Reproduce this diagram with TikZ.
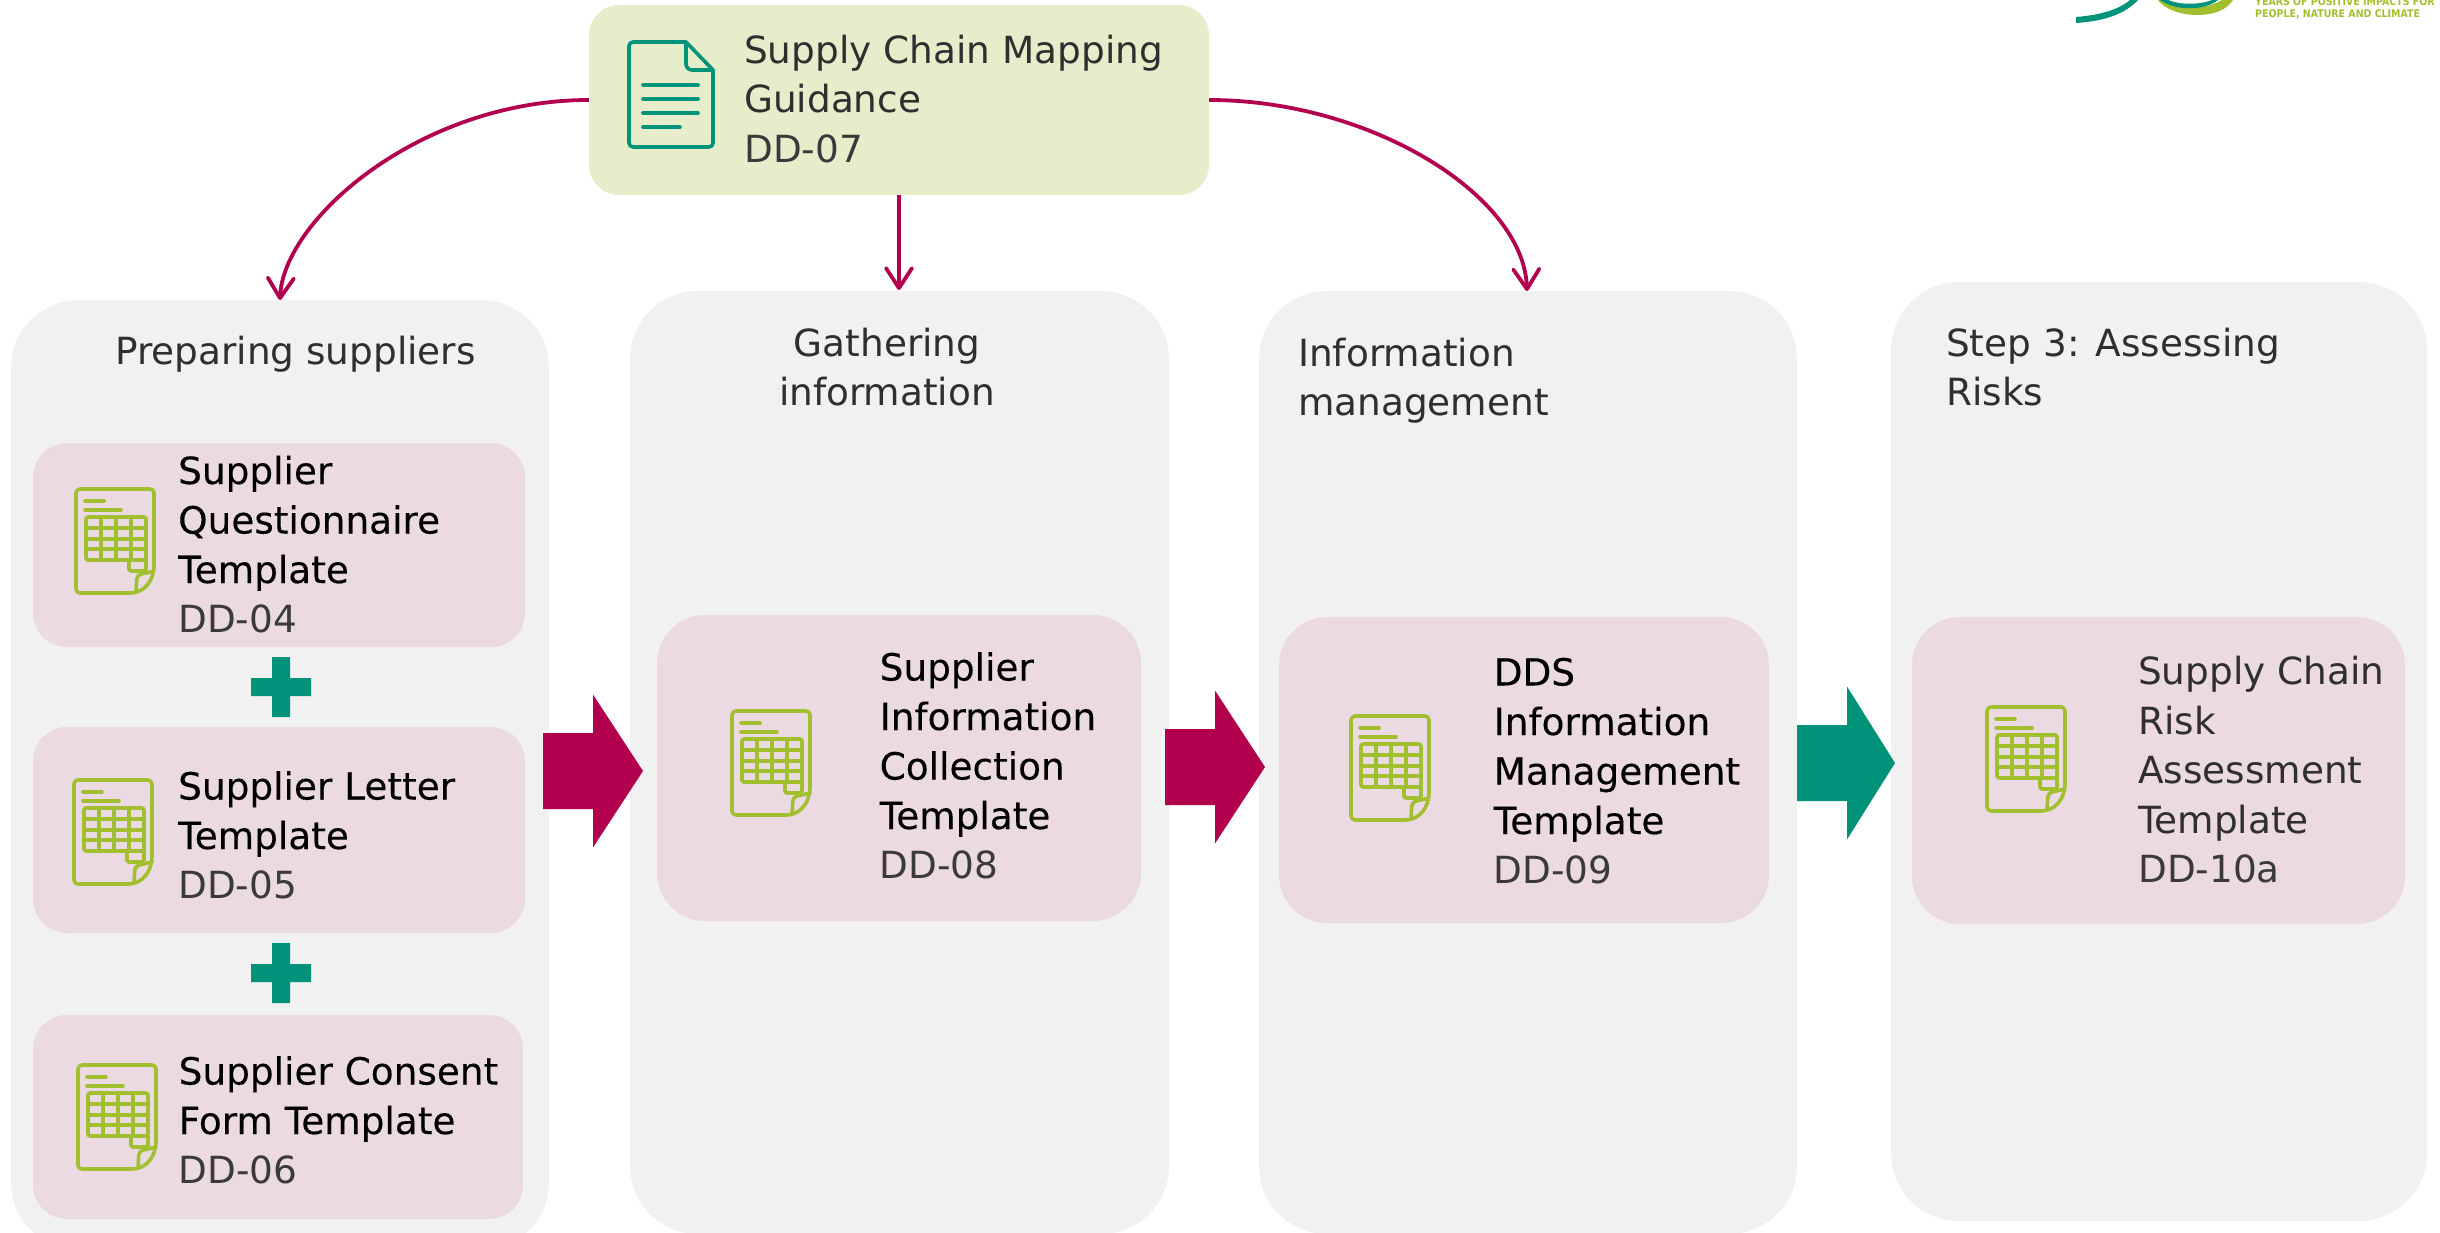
\documentclass[tikz,border=0pt]{standalone}
\usepackage{fontspec}
\setmainfont{DejaVu Sans}
\newfontfamily\logofont{DejaVu Sans Condensed}
\newfontfamily\heavy[FakeBold=0.25]{DejaVu Sans}
\usetikzlibrary{arrows.meta}
\definecolor{panelc}{HTML}{F1F1F1}
\definecolor{pinkc}{HTML}{ECDAE2}
\definecolor{topc}{HTML}{E6EDCB}
\definecolor{magc}{HTML}{B2004F}
\definecolor{tealc}{HTML}{00937A}
\definecolor{greenc}{HTML}{A1BF2F}
\definecolor{darkc}{HTML}{2F2F2F}
\definecolor{codec}{HTML}{3A3A3A}
\tikzset{
 x=1pt,y=-1pt,
 panelbox/.style={fill=panelc,rounded corners=68pt,inner sep=0,draw=none},
 pinkbox/.style={fill=pinkc,rounded corners=34pt,inner sep=0,draw=none},
 bigpink/.style={fill=pinkc,rounded corners=48pt,inner sep=0,draw=none},
 topbox/.style={fill=topc,rounded corners=30pt,inner sep=0,draw=none},
 label/.style={anchor=base west,inner sep=0,font=\fontsize{37.4}{49.5}\selectfont},
 flow/.style={draw=magc,line width=3.8pt,-{Straight Barb[length=20pt,width=26pt,line width=3.8pt,round]}},
 iconline/.style={greenc,line width=3.6pt,line cap=round,line join=round},
 docline/.style={tealc,line width=3.6pt,line cap=round,line join=round},
}
\newcommand{\boxat}[6]{% style,name,x1,y1,x2,y2
 \pgfmathsetmacro{\bw}{#5-#3}\pgfmathsetmacro{\bh}{#6-#4}
 \pgfmathsetmacro{\bx}{(#3+#5)/2}\pgfmathsetmacro{\by}{(#4+#6)/2}
 \node[#1,minimum width=\bw pt,minimum height=\bh pt,rectangle] (#2) at (\bx,\by) {};}
\newcommand{\lines}[5]{% name,x,y,text colour,lines
 \node[label,text=#4] (#1) at (#2,#3) {\begin{tabular}[t]{@{}l@{}}#5\end{tabular}};}
\newcommand{\code}[1]{\normalfont\textcolor{codec}{#1}}
\newcommand{\hv}[1]{{\heavy #1}}
\newcommand{\sheet}[2]{%
 \begin{scope}[shift={(#1,#2)},iconline]
  \draw[rounded corners=4pt] (54,104) -- (0,104) -- (0,0) -- (78,0) -- (78,76);
  \draw (78,76) .. controls (78,92) and (68,104) .. (54,104);
  \draw[rounded corners=4pt] (60,103) -- (61,86) -- (78,82);
  \draw (9,12) -- (28,12);
  \draw (9,21) -- (45,21);
  \draw[rounded corners=2pt] (10,28) rectangle (70,71);
  \draw[rounded corners=2pt] (53,71) -- (53,82) -- (70,82) -- (70,71);
  \draw[line width=3.2pt,line cap=butt] (25,28) -- (25,71) (40,28) -- (40,71) (55,28) -- (55,71);
  \draw[line width=3.2pt,line cap=butt] (10,39) -- (70,39) (10,50) -- (70,50) (10,60) -- (70,60);
 \end{scope}}
\newcommand{\plusat}[2]{%
 \fill[tealc] (#1-9,#2-30) -- (#1+9,#2-30) -- (#1+9,#2-9) -- (#1+30,#2-9) -- (#1+30,#2+9) -- (#1+9,#2+9) -- (#1+9,#2+30) -- (#1-9,#2+30) -- (#1-9,#2+9) -- (#1-30,#2+9) -- (#1-30,#2-9) -- (#1-9,#2-9) -- cycle;}
\newcommand{\blockarrow}[5]{% colour, x1, xneck, xtip, ycentre
 \fill[#1] (#2,#5-38) -- (#3,#5-38) -- (#3,#5-76.5) -- (#4,#5) -- (#3,#5+76.5) -- (#3,#5+38) -- (#2,#5+38) -- cycle;}
\begin{document}
\begin{tikzpicture}
\useasboundingbox (0,0) rectangle (2440,1232);
\clip (0,0) rectangle (2440,1232);
% panels
\boxat{panelbox}{p1}{11}{300}{549}{1250}
\boxat{panelbox}{p2}{630}{291}{1169}{1234}
\boxat{panelbox}{p3}{1259}{291}{1797}{1234}
\boxat{panelbox}{p4}{1891}{282}{2427}{1221}
% top box
\boxat{topbox}{top}{589}{5}{1209}{195}
\begin{scope}[shift={(629,42)},docline]
 \draw[rounded corners=4pt] (57,0) -- (0,0) -- (0,105) -- (84,105) -- (84,28);
 \draw (57,0) -- (84,28);
 \draw[rounded corners=6pt] (57,0) -- (57,28) -- (84,28);
 \draw (14,43) -- (69,43) (14,57) -- (69,57) (14,71) -- (69,71) (14,85) -- (51,85);
\end{scope}
\lines{toptxt}{744}{63}{darkc}{Supply Chain Mapping\\Guidance\\\code{DD-07}}
% titles
\lines{t1}{115}{364}{darkc}{Preparing suppliers}
\node[label,text=darkc,anchor=base] (t2) at (887,356) {\begin{tabular}[t]{@{}c@{}}Gathering\\information\end{tabular}};
\lines{t3}{1298}{366}{darkc}{Information\\management}
\lines{t4}{1946}{356}{darkc}{Step 3: Assessing\\Risks}
% left column
\boxat{pinkbox}{b1}{33}{443}{525}{647}
\sheet{76}{489}
\lines{b1t}{178}{484}{black}{\hv{Supplier}\\\hv{Questionnaire}\\\hv{Template}\\\code{DD-04}}
\plusat{281}{687}
\boxat{pinkbox}{b2}{33}{727}{525}{933}
\sheet{74}{780}
\lines{b2t}{178}{799.5}{black}{\hv{Supplier Letter}\\\hv{Template}\\\code{DD-05}}
\plusat{281}{973}
\boxat{pinkbox}{b3}{33}{1015}{523}{1219}
\sheet{78}{1065}
\lines{b3t}{178.5}{1084.5}{black}{\hv{Supplier Consent}\\\hv{Form Template}\\\code{DD-06}}
% other columns
\boxat{bigpink}{b4}{657}{615}{1141}{921}
\sheet{732}{711}
\lines{b4t}{879.5}{680.5}{black}{\hv{Supplier}\\\hv{Information}\\\hv{Collection}\\\hv{Template}\\\code{DD-08}}
\boxat{bigpink}{b5}{1279}{617}{1769}{923}
\sheet{1351}{716}
\lines{b5t}{1493.5}{685.5}{black}{\hv{DDS}\\\hv{Information}\\\hv{Management}\\\hv{Template}\\\code{DD-09}}
\boxat{bigpink}{b6}{1912}{617}{2405}{924}
\sheet{1987}{707}
\lines{b6t}{2138}{684.5}{darkc}{Supply Chain\\Risk\\Assessment\\Template\\\code{DD-10a}}
% block arrows
\blockarrow{magc}{543}{593}{643}{771}
\blockarrow{magc}{1165}{1215}{1265}{767}
\blockarrow{tealc}{1797}{1847}{1895}{763}
% connectors
\coordinate (c1) at (280,300);
\coordinate (c2) at (899,290);
\coordinate (c3) at (1527,291);
\draw[flow] (top.west) .. controls (420,100) and (283,220) .. (c1);
\draw[flow] (top.south -| c2) -- (c2);
\draw[flow] (top.east) .. controls (1370,100) and (1524,195) .. (c3);
% logo
\fill[tealc] (2076,17) .. controls (2100,15) and (2118,10) .. (2130,0) -- (2138,0) .. controls (2125,14) and (2105,21) .. (2076,23) -- cycle;
\fill[greenc] (2158,0) .. controls (2170,18) and (2220,22) .. (2233,0) -- (2222,0) .. controls (2205,10) and (2180,10) .. (2165,0) -- cycle;
\fill[tealc] (2160,0) .. controls (2175,11) and (2205,11) .. (2218,0) -- (2212,0) .. controls (2200,5) and (2180,5) .. (2168,0) -- cycle;
\node[anchor=base west,inner sep=0,text=greenc,font=\logofont\fontsize{10.5}{12}\selectfont\bfseries] (lg1) at (2255,5) {YEARS OF POSITIVE IMPACTS FOR};
\node[anchor=base west,inner sep=0,text=greenc,font=\logofont\fontsize{10.5}{12}\selectfont\bfseries] (lg2) at (2255,17.5) {PEOPLE, NATURE AND CLIMATE};
\end{tikzpicture}
\end{document}
